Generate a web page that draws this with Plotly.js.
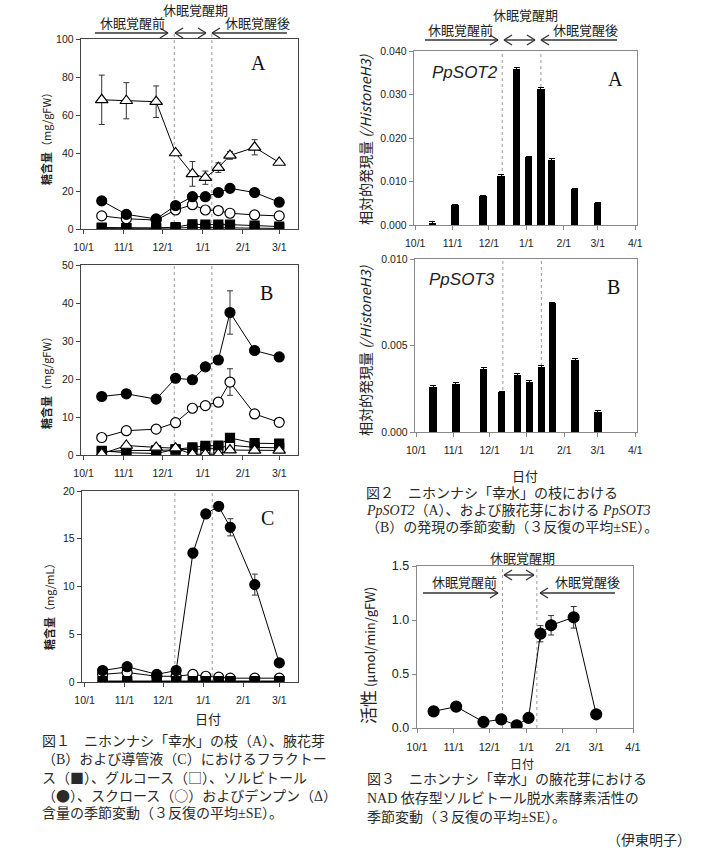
<!DOCTYPE html>
<html><head><meta charset="utf-8">
<script src="https://cdn.plot.ly/plotly-3.0.1.min.js"></script>
<style>html,body{margin:0;padding:0;background:#fff}</style>
</head><body><div id="chart" style="width:705px;height:853px"></div>
<script>
// ---------- DATA ----------
const sampleDates = ['2000-10-15','2000-11-03','2000-11-26','2000-12-11','2000-12-24','2001-01-03','2001-01-13','2001-01-22','2001-02-10','2001-03-01'];
const monthTicks1 = ['2000-10-01','2000-11-01','2000-12-01','2001-01-01','2001-02-01','2001-03-01'];
const monthLabels1 = ['10/1','11/1','12/1','1/1','2/1','3/1'];
const monthTicks2 = ['2000-10-01','2000-11-01','2000-12-01','2001-01-01','2001-02-01','2001-03-01','2001-04-01'];
const monthLabels2 = ['10/1','11/1','12/1','1/1','2/1','3/1','4/1'];

// Fig.1 A  (shoot, mg/gFW)
const starchA     = [68, 67.5, 67, 40, 29, 27, 32.3, 38.7, 43, 35];
const starchA_se  = [13, 9.5, 8.3, 1.0, 6.5, 3.5, 2.5, 2, 4, 1];
const sucroseA    = [6.9, 5.4, 4.7, 10, 12.8, 10, 9.7, 8.3, 7.4, 6.9];
const sorbitolA   = [14.8, 7.7, 5.3, 12.3, 17, 17, 19.2, 21.4, 19.2, 14.1];
const glucoseA    = [0.3, 0.3, 0.3, 0.5, 0.8, 0.7, 0.6, 0.5, 0.3, 0.3];
const fructoseA   = [0.8, 0.5, 0.5, 1.0, 2.5, 2.3, 2.3, 2.3, 1.8, 1.3];
// Fig.1 B  (axillary flower bud, mg/gFW)
const sorbitolB    = [15.4, 16.1, 14.7, 20.2, 19.8, 23.2, 25, 37.5, 27.5, 25.8];
const sorbitolB_se = [0.6, 0.6, 0.6, 0.6, 0.6, 0.8, 0.8, 5.7, 0.8, 0.7];
const sucroseB     = [4.6, 6.4, 6.8, 8.5, 12.3, 13, 13.9, 19.2, 10.8, 8.6];
const sucroseB_se  = [0.3, 0.3, 0.3, 0.5, 0.5, 0.5, 0.5, 3.5, 0.5, 0.5];
const glucoseB     = [0.8, 1.2, 1.2, 1.4, 1.4, 1.6, 1.7, 2.6, 2.0, 1.9];
const fructoseB    = [1.1, 0.6, 0.4, 1.5, 2.0, 2.4, 2.5, 4.5, 3.1, 3.0];
const starchB      = [0.3, 2.5, 2.0, 1.8, 0.2, 0.2, 0.2, 1.3, 1.2, 1.2];
// Fig.1 C  (xylem sap, mg/mL)
const sorbitolC    = [1.2, 1.6, 0.8, 1.2, 13.5, 17.6, 18.4, 16.2, 10.2, 2.0];
const sorbitolC_se = [0.1, 0.1, 0.1, 0.1, 0.5, 0.4, 0.2, 0.9, 1.1, 0.1];
const sucroseC     = [0.8, 1.0, 0.6, 0.6, 0.8, 0.6, 0.5, 0.4, 0.4, 0.4];
const glucoseC     = [0.05, 0.05, 0.05, 0.05, 0.05, 0.05, 0.05, 0.05, 0.05, 0.05];
const fructoseC    = [0.1, 0.1, 0.1, 0.1, 0.1, 0.1, 0.1, 0.1, 0.1, 0.1];
// Fig.2
const sot2    = [0.0005, 0.0046, 0.0067, 0.0113, 0.0359, 0.0157, 0.0312, 0.0150, 0.0082, 0.0050];
const sot2_se = [0.0002, 0.0001, 0.0001, 0.0002, 0.0003, 0.0001, 0.0003, 0.0002, 0.0001, 0.0001];
const sot3    = [0.00263, 0.00279, 0.00365, 0.00231, 0.00331, 0.0029, 0.00377, 0.00746, 0.00417, 0.00117];
const sot3_se = [0.00005, 0.00005, 0.00005, 0.00005, 0.0001, 0.00005, 0.00005, 0.00005, 0.00005, 0.00005];
// Fig.3
const sdh    = [0.154, 0.198, 0.056, 0.080, 0.025, 0.093, 0.873, 0.951, 1.025, 0.127];
const sdh_se = [0.01, 0.01, 0.01, 0.01, 0.01, 0.01, 0.075, 0.09, 0.1, 0.01];

// ---------- HELPERS ----------
const W = 705, H = 853;
const px = v => v / W;
const py = v => 1 - v / H;
const TICKFONT = 'Liberation Sans, Arial, sans-serif';
const JP = 'Noto Sans CJK JP, sans-serif';
const CAP = 'Liberation Serif, Noto Sans CJK JP, serif';
const sym = s => '<span style="font-family:Noto Sans CJK JP">' + s + '</span>';

function xAxis(l, r, anchor, range, tv, tt, fs, lc) {
  return {domain:[px(l), px(r)], anchor, type:'date', range, tickmode:'array', tickvals:tv, ticktext:tt,
    showline:true, mirror:true, linecolor:lc, linewidth:1.3, ticks:'outside', ticklen:4, tickcolor:lc,
    showgrid:false, zeroline:false, ticklabelstandoff:4, tickfont:{family:TICKFONT, size:fs, color:'#222'}};
}
function yAxis(t, b, anchor, range, dtick, fmt, fs, lc) {
  return {domain:[py(b), py(t)], anchor, range, dtick, tick0:0, tickformat:fmt,
    showline:true, mirror:true, linecolor:lc, linewidth:1.3, ticks:'outside', ticklen:4, tickcolor:lc,
    showgrid:false, zeroline:false, tickfont:{family:TICKFONT, size:fs, color:'#222'}};
}
function series(y, xa, ya, symb, fill, size, se) {
  const t = {type:'scatter', mode:'lines+markers', x:sampleDates, y, xaxis:xa, yaxis:ya,
    line:{color:'#000', width:1}, marker:{symbol:symb, size, color:fill, line:{color:'#000', width:1.2}},
    hoverinfo:'skip'};
  if (se) t.error_y = {type:'data', array:se, visible:true, color:'#333', thickness:1, width:3};
  return t;
}
function bars(y, se, xa, ya) {
  return {type:'bar', x:sampleDates, y, xaxis:xa, yaxis:ya, width:6*864e5,
    marker:{color:'#000'}, error_y:{type:'data', array:se, visible:true, color:'#000', thickness:1, width:3}};
}

// ---------- TRACES ----------
const data = [
  series(starchA, 'x', 'y', 'triangle-up', '#fff', 11, starchA_se),
  series(sucroseA, 'x', 'y', 'circle', '#fff', 10),
  series(sorbitolA, 'x', 'y', 'circle', '#000', 10),
  series(glucoseA, 'x', 'y', 'square', '#fff', 9),
  series(fructoseA, 'x', 'y', 'square', '#000', 9),

  series(glucoseB, 'x2', 'y2', 'square', '#fff', 9),
  series(fructoseB, 'x2', 'y2', 'square', '#000', 9),
  series(starchB, 'x2', 'y2', 'triangle-up', '#fff', 11),
  series(sucroseB, 'x2', 'y2', 'circle', '#fff', 10, sucroseB_se),
  series(sorbitolB, 'x2', 'y2', 'circle', '#000', 10, sorbitolB_se),

  series(sucroseC, 'x3', 'y3', 'circle', '#fff', 10),
  series(sorbitolC, 'x3', 'y3', 'circle', '#000', 10, sorbitolC_se),
  series(glucoseC, 'x3', 'y3', 'square', '#fff', 9),
  series(fructoseC, 'x3', 'y3', 'square', '#000', 9),

  bars(sot2, sot2_se, 'x4', 'y4'),
  bars(sot3, sot3_se, 'x5', 'y5'),

  series(sdh, 'x6', 'y6', 'circle', '#000', 11, sdh_se)
];

// ---------- SHAPES ----------
const shapes = [];
function vdot(xa, date, top, bottom) {
  shapes.push({type:'line', xref:xa, yref:'paper', x0:date, x1:date, y0:py(bottom), y1:py(top),
    layer:'below', line:{color:'#999', width:1, dash:'dot'}});
}
function seg(x0, y0, x1, y1) {
  shapes.push({type:'line', xref:'paper', yref:'paper', x0:px(x0), y0:py(y0), x1:px(x1), y1:py(y1),
    line:{color:'#333', width:1.4}});
}
function arrow(x0, x1, y, leftHead, rightHead) {
  seg(x0, y, x1, y);
  if (rightHead) { seg(x1-8, y-5, x1, y); seg(x1-8, y+5, x1, y); }
  if (leftHead)  { seg(x0+8, y-5, x0, y); seg(x0+8, y+5, x0, y); }
}
vdot('x', '2000-12-10', 33, 229); vdot('x', '2001-01-08', 33, 229);
vdot('x2', '2000-12-10', 265, 455); vdot('x2', '2001-01-08', 265, 455);
vdot('x3', '2000-12-10', 491, 682); vdot('x3', '2001-01-08', 491, 682);
vdot('x4', '2000-12-12', 51, 225); vdot('x4', '2001-01-13', 51, 225);
vdot('x5', '2000-12-12', 259, 432); vdot('x5', '2001-01-13', 259, 432);
vdot('x6', '2000-12-12', 566, 728); vdot('x6', '2001-01-10', 566, 728);

arrow(95, 168, 33, false, true); arrow(175, 206, 33, true, true); arrow(212, 287, 33, true, false);
arrow(425, 498, 40, false, true); arrow(504, 535, 40, true, true); arrow(541, 617, 40, true, false);
arrow(423, 498, 593, false, true); arrow(504, 534, 575, true, true); arrow(540, 615, 593, true, false);

// ---------- ANNOTATIONS ----------
const ann = [];
function txt(x, y, text, size, opts) {
  ann.push(Object.assign({xref:'paper', yref:'paper', x:px(x), y:py(y), text, showarrow:false,
    xanchor:'center', yanchor:'middle', font:{family:JP, size, color:'#222'}}, opts || {}));
}
// period labels
txt(195, 9, '休眠覚醒期', 13); txt(132, 23, '休眠覚醒前', 13); txt(257, 23, '休眠覚醒後', 13);
txt(525, 15, '休眠覚醒期', 13); txt(460, 29, '休眠覚醒前', 13); txt(585, 29, '休眠覚醒後', 13);
txt(522, 557, '休眠覚醒期', 13); txt(465, 581, '休眠覚醒前', 13); txt(587, 581, '休眠覚醒後', 13);
// panel letters
const serifLetter = {font:{family:'Liberation Serif, serif', size:20, color:'#111'}};
txt(258, 63, 'A', 20, serifLetter); txt(266, 293, 'B', 20, serifLetter); txt(267, 518, 'C', 20, serifLetter);
txt(615, 79, 'A', 20, serifLetter); txt(613, 287, 'B', 20, serifLetter);
// gene names
const geneFont = {xanchor:'left', font:{family:'Liberation Sans, sans-serif', size:17, color:'#222'}};
txt(430, 72, '<i>PpSOT2</i>', 17, geneFont); txt(427, 280, '<i>PpSOT3</i>', 17, geneFont);
// y titles
const rot = {textangle:-90};
txt(46, 136, '<b>糖含量</b>（mg/gFW）', 11, rot);
txt(46, 380, '<b>糖含量</b>（mg/gFW）', 11, rot);
txt(49, 604, '<b>糖含量</b>（mg/mL）', 11, rot);
txt(365, 140, '相対的発現量 <i>(/HistoneH3)</i>', 14, rot);
txt(365, 351, '相対的発現量 <i>(/HistoneH3)</i>', 14, rot);
txt(367, 656, '<span style="font-size:17px">活性</span> (μmol/min/gFW)', 13, rot);
// x titles
txt(208, 718, '日付', 13); txt(525, 475, '日付', 13); txt(522, 763, '日付', 12);
// captions
const capOpt = {xanchor:'left', font:{family:CAP, size:14, color:'#2a2a2a'}};
const cap1 = ['図１　ニホンナシ「幸水」の枝（A）、腋花芽',
  '（B）および導管液（C）におけるフラクトー',
  'ス（' + sym('■') + '）、グルコース（' + sym('□') + '）、ソルビトール',
  '（' + sym('●') + '）、スクロース（' + sym('○') + '）およびデンプン（Δ）',
  '含量の季節変動（３反復の平均±SE）。'];
const cap1y = [741, 759, 777, 795, 813];
cap1.forEach((t, i) => txt(40, cap1y[i], t, 14, capOpt));
const cap2 = ['図２　ニホンナシ「幸水」の枝における',
  '<i>PpSOT2</i>（A）、および腋花芽における <i>PpSOT3</i>',
  '（B）の発現の季節変動（３反復の平均±SE）。'];
const cap2y = [493, 510, 527];
cap2.forEach((t, i) => txt(364, cap2y[i], t, 14, capOpt));
const cap3 = ['図３　ニホンナシ「幸水」の腋花芽における',
  'NAD 依存型ソルビトール脱水素酵素活性の',
  '季節変動（３反復の平均±SE）。'];
const cap3y = [779, 798, 817];
cap3.forEach((t, i) => txt(365, cap3y[i], t, 14, capOpt));
txt(693, 840, '（伊東明子）', 14, {xanchor:'right', font:{family:CAP, size:14, color:'#2a2a2a'}});

// ---------- LAYOUT ----------
const dark = '#444', grey = '#888';
const r1 = ['2000-09-29', '2001-03-15 12:00'];
const r2 = ['2000-09-30', '2001-04-02 12:00'];
const r3 = ['2000-10-01', '2001-04-01'];
const layout = {
  width: W, height: H, margin:{l:0, r:0, t:0, b:0}, showlegend:false,
  paper_bgcolor:'#fff', plot_bgcolor:'#fff', bargap:0,
  xaxis:  xAxis(81, 298, 'y',  r1, monthTicks1, monthLabels1, 10.5, dark),
  yaxis:  yAxis(39, 229, 'x',  [0, 100], 20, 'd', 10.5, dark),
  xaxis2: xAxis(81, 298, 'y2', r1, monthTicks1, monthLabels1, 10.5, dark),
  yaxis2: yAxis(265, 455, 'x2', [0, 50], 10, 'd', 10.5, dark),
  xaxis3: xAxis(82, 298, 'y3', r1, monthTicks1, monthLabels1, 10.5, dark),
  yaxis3: yAxis(491, 682, 'x3', [0, 20], 5, 'd', 10.5, dark),
  xaxis4: xAxis(414, 637, 'y4', r2, monthTicks2, monthLabels2, 10.5, grey),
  yaxis4: yAxis(51, 225, 'x4', [0, 0.04], 0.01, '.3f', 10.5, grey),
  xaxis5: xAxis(415, 637, 'y5', r2, monthTicks2, monthLabels2, 10.5, grey),
  yaxis5: yAxis(259, 432, 'x5', [0, 0.01], 0.005, '.3f', 10.5, grey),
  xaxis6: xAxis(417, 633, 'y6', r3, monthTicks2, monthLabels2, 11, grey),
  yaxis6: yAxis(566, 728, 'x6', [0, 1.5], 0.5, '.1f', 12.5, grey),
  shapes, annotations: ann
};
Plotly.newPlot('chart', data, layout, {displayModeBar:false, staticPlot:true});
</script></body></html>
